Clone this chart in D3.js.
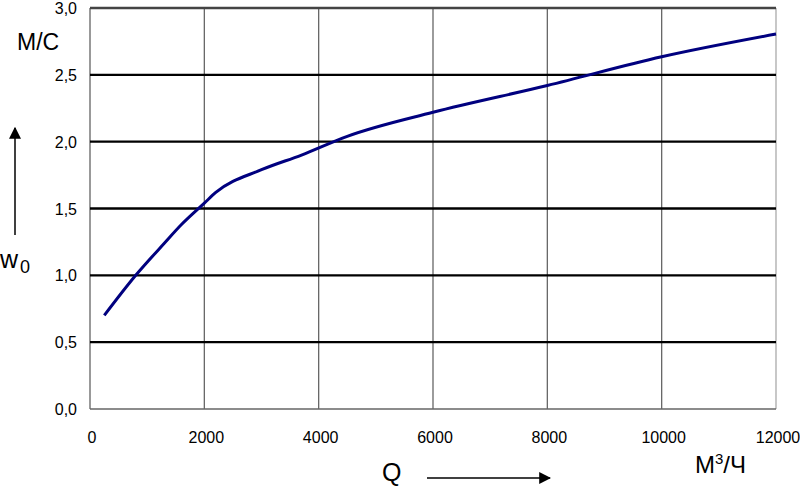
<!DOCTYPE html>
<html>
<head>
<meta charset="utf-8">
<script src="https://cdnjs.cloudflare.com/ajax/libs/d3/7.8.5/d3.min.js"></script>
<style>
  body { margin: 0; background: #fff; }
  text { font-family: "Liberation Sans", Arial, sans-serif; fill: #000; }
</style>
</head>
<body>
<div id="chart"></div>
<script>
// Q, m3/h  ->  w0, m/s
var flowQ  = [250, 800, 1300, 1600, 2000, 2200, 3000, 3700, 4500, 6000, 8000, 10000, 12000];
var speedW = [0.70, 1.00, 1.24, 1.38, 1.54, 1.62, 1.79, 1.90, 2.04, 2.22, 2.42, 2.635, 2.805];

var xTicks = [0, 2000, 4000, 6000, 8000, 10000, 12000];
var yTicks = [0, 0.5, 1.0, 1.5, 2.0, 2.5, 3.0];

const width = 800;
const height = 486;
const margin = {top: 8, left: 90, right: 24, bottom: 77};

var svg = d3.select('#chart')
    .append('svg')
    .attr('width', width)
    .attr('height', height);

var xScale = d3.scaleLinear().domain([0, 12000]).range([margin.left, width - margin.right]);
var yScale = d3.scaleLinear().domain([0, 3]).range([height - margin.bottom, margin.top]);

// vertical grid
svg.selectAll('.vgrid')
    .data(xTicks.slice(1))
    .join('line')
    .attr('x1', d => xScale(d)).attr('x2', d => xScale(d))
    .attr('y1', yScale(3)).attr('y2', yScale(0))
    .attr('stroke', d => d === 12000 ? '#aaa' : '#666')
    .attr('stroke-width', 1.3);

// left axis line + bottom axis line
svg.append('line')
    .attr('x1', xScale(0)).attr('x2', xScale(0))
    .attr('y1', yScale(3)).attr('y2', yScale(0))
    .attr('stroke', '#777').attr('stroke-width', 1.5);
svg.append('line')
    .attr('x1', xScale(0)).attr('x2', xScale(12000))
    .attr('y1', yScale(0)).attr('y2', yScale(0))
    .attr('stroke', '#666').attr('stroke-width', 1.5);

// horizontal grid (heavy)
svg.selectAll('.hgrid')
    .data(yTicks.slice(1))
    .join('line')
    .attr('x1', xScale(0)).attr('x2', xScale(12000))
    .attr('y1', d => yScale(d)).attr('y2', d => yScale(d))
    .attr('stroke', d => d === 3 ? '#444' : '#000')
    .attr('stroke-width', 2.4);

// y tick labels
svg.selectAll('.ylab')
    .data(yTicks)
    .join('text')
    .attr('x', 77)
    .attr('y', d => yScale(d) + 6)
    .attr('text-anchor', 'end')
    .style('font-size', '16px')
    .text(d => d3.format('.1f')(d).replace('.', ','));

// x tick labels
svg.selectAll('.xlab')
    .data(xTicks)
    .join('text')
    .attr('x', d => xScale(d) + 2)
    .attr('y', 443)
    .attr('text-anchor', 'middle')
    .style('font-size', '16px')
    .text(d => d);

// curve
svg.append('path')
    .datum(flowQ.map((q, i) => [q, speedW[i]]))
    .attr('fill', 'none')
    .attr('stroke', '#00007f')
    .attr('stroke-width', 3)
    .attr('stroke-linejoin', 'round')
    .attr('d', d3.line()
        .curve(d3.curveMonotoneX)
        .x(d => xScale(d[0]))
        .y(d => yScale(d[1])));

// arrow marker
svg.append('defs').append('marker')
    .attr('id', 'arrow')
    .attr('viewBox', '0 0 10 10')
    .attr('refX', 9).attr('refY', 5)
    .attr('markerWidth', 12).attr('markerHeight', 12)
    .attr('markerUnits', 'userSpaceOnUse')
    .attr('orient', 'auto')
    .append('path')
    .attr('d', 'M0,0 L10,5 L0,10 Z')
    .attr('fill', '#000');

// y axis annotation
svg.append('text')
    .attr('x', 17).attr('y', 50)
    .style('font-size', '23px')
    .style('text-transform', 'uppercase')
    .text('м/с');
svg.append('line')
    .attr('x1', 15).attr('x2', 15)
    .attr('y1', 235).attr('y2', 128)
    .attr('stroke', '#000').attr('stroke-width', 1.5)
    .attr('marker-end', 'url(#arrow)');
var wText = svg.append('text')
    .attr('x', 0).attr('y', 268)
    .style('font-size', '25px');
wText.append('tspan').text('w');
wText.append('tspan').attr('dy', 5).attr('dx', 2).style('font-size', '18px').text('0');

// x axis annotation
svg.append('text')
    .attr('x', 382).attr('y', 481)
    .style('font-size', '25px')
    .text('Q');
svg.append('line')
    .attr('x1', 427).attr('x2', 550)
    .attr('y1', 478).attr('y2', 478)
    .attr('stroke', '#000').attr('stroke-width', 1.5)
    .attr('marker-end', 'url(#arrow)');
var uText = svg.append('text')
    .attr('x', 695).attr('y', 473)
    .style('font-size', '24px')
    .style('text-transform', 'uppercase');
uText.append('tspan').text('м');
uText.append('tspan').attr('dy', -9).style('font-size', '15px').text('3');
uText.append('tspan').attr('dy', 9).text('/ч');
</script>
</body>
</html>
